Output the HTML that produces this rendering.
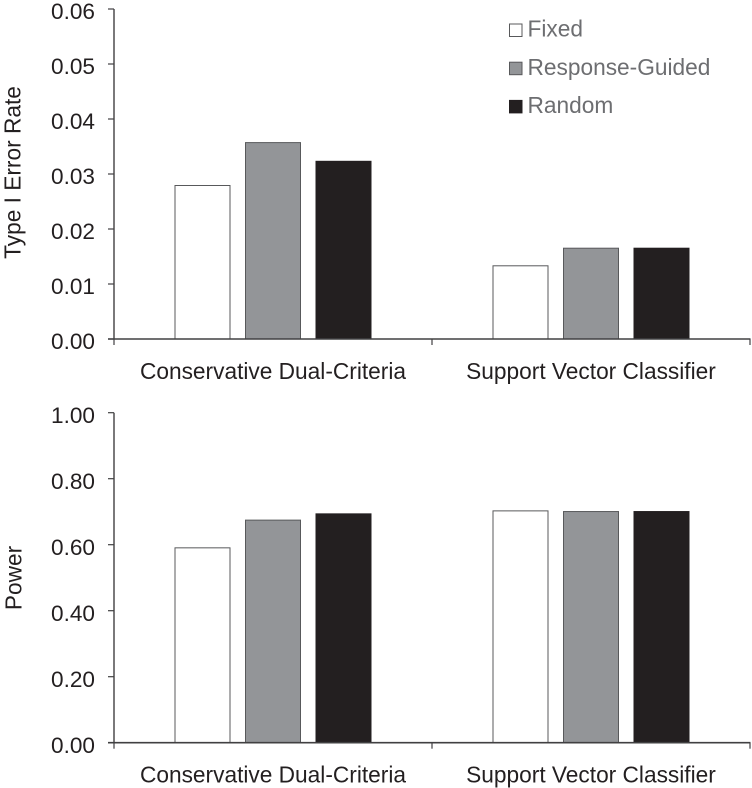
<!DOCTYPE html>
<html>
<head>
<meta charset="utf-8">
<title>Type I Error Rate and Power</title>
<style>
html,body{margin:0;padding:0;background:#fff;width:752px;height:788px;overflow:hidden}
svg{display:block}
text{font-family:"Liberation Sans",Arial,sans-serif;fill:#231f20}
</style>
</head>
<body>
<svg id="chart" xmlns="http://www.w3.org/2000/svg" width="752" height="788" viewBox="0 0 752 788"></svg>
<script>
var categories = ["Conservative Dual-Criteria", "Support Vector Classifier"];
var seriesNames = ["Fixed", "Response-Guided", "Random"];
var errorFixed = [0.0280, 0.0134];
var errorGuided = [0.0358, 0.0166];
var errorRandom = [0.0324, 0.0166];
var powerFixed = [0.592, 0.704];
var powerGuided = [0.676, 0.702];
var powerRandom = [0.695, 0.702];
var errorTicks = [0, 0.01, 0.02, 0.03, 0.04, 0.05, 0.06];
var powerTicks = [0, 0.2, 0.4, 0.6, 0.8, 1.0];

var NS = "http://www.w3.org/2000/svg";
var svg = document.getElementById("chart");
var FILLS = ["#ffffff", "#939598", "#231f20"];
var STROKES = ["#58595b", "#58595b", "#231f20"];
var AXIS = "#414042";
var FONT = 22.7;

function make(tag, attrs, parent) {
  var el = document.createElementNS(NS, tag);
  for (var k in attrs) el.setAttribute(k, attrs[k]);
  (parent || svg).appendChild(el);
  return el;
}

function drawPanel(cfg) {
  var g = make("g", {});
  
  

  var left = 114, right = 750, base = cfg.base, top = cfg.top;
  var maxV = cfg.ticks[cfg.ticks.length - 1];
  function y(v) { return base - (v / maxV) * (base - top); }
  var band = (right - left) / categories.length;
  var barW = 56, step = 70.5;
  function x(cat, s) { return left + band * (cat + 0.5) + (s - 1) * step - barW / 2; }

  cfg.series.forEach(function (vals, s) {
    vals.forEach(function (v, c) {
      var r = make("rect", {
        x: x(c, s) + 0.5, y: y(v) + 0.5,
        width: barW - 1, height: base - y(v) - 0.5,
        fill: FILLS[s], stroke: STROKES[s], "stroke-width": 1
      }, g);
      
      
    });
  });

  var yAxis = make("line", { x1: left, x2: left, y1: top, y2: base, stroke: AXIS, "stroke-width": 1.4 }, g);
  
  

  var xAxis = make("line", { x1: 108, x2: right + 0.5, y1: base, y2: base, stroke: AXIS, "stroke-width": 1.6 }, g);
  
  

  cfg.ticks.forEach(function (t) {
    var tick = make("line", { x1: 108, x2: left, y1: y(t), y2: y(t), stroke: AXIS, "stroke-width": 1.2 }, g);
    
    
    var lab = make("text", { x: 95, y: y(t) + 10.2, "text-anchor": "end", "font-size": 22.6 }, g);
    lab.textContent = t.toFixed(2);
    
    
  });

  for (var i = 0; i <= categories.length; i++) {
    var tx = left + band * i;
    var xt = make("line", { x1: tx, x2: tx, y1: base, y2: base + 6, stroke: AXIS, "stroke-width": 1.2 }, g);
    
    
  }

  categories.forEach(function (c, i) {
    var cl = make("text", { x: cfg.catX[i], y: base + 40, "text-anchor": "middle", "font-size": FONT }, g);
    cl.textContent = c;
    
    
  });

  var tl = make("text", {
    transform: "translate(" + cfg.titleX + "," + cfg.titleY + ") rotate(-90)",
    "text-anchor": "middle", "font-size": FONT
  }, g);
  tl.textContent = cfg.title;
  
  
}

drawPanel({
  name: "error", title: "Type I Error Rate", base: 339, top: 9,
  ticks: errorTicks, series: [errorFixed, errorGuided, errorRandom],
  catX: [273, 591], titleX: 20.5, titleY: 172.5
});
drawPanel({
  name: "power", title: "Power", base: 742.7, top: 412.7,
  ticks: powerTicks, series: [powerFixed, powerGuided, powerRandom],
  catX: [273, 591], titleX: 21.7, titleY: 578
});

var legend = make("g", {});


var legendRow = 38.2;
seriesNames.forEach(function (n, i) {
  var ry = 24 + i * legendRow;
  var sw = make("rect", { x: 509.5, y: ry, width: 12.5, height: 12.5, fill: FILLS[i], stroke: STROKES[i], "stroke-width": 1 }, legend);
  
  
  var t = make("text", { x: 527.5, y: 36.7 + i * legendRow, "font-size": FONT }, legend);
  t.style.fill = "#6d6e71";
  t.textContent = n;
  
  
});
</script>
</body>
</html>
